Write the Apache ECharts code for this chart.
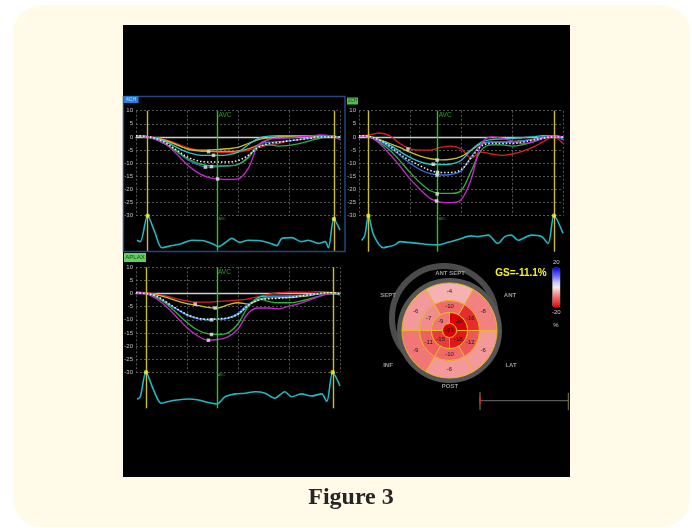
<!DOCTYPE html>
<html><head><meta charset="utf-8">
<script src="https://cdn.jsdelivr.net/npm/echarts@6/dist/echarts.min.js"></script>
<style>html,body{margin:0;padding:0;background:#fff;}#c{width:692px;height:528px;}</style>
</head><body><div id="c"></div>
<script>
// ---------- DATA ----------
const FRAMES = [0,5,10,15,20,25,30,35,40,45,50,55,60,65,70,75,80,85,90,95,100];
const Y_TICKS = [10,5,0,-5,-10,-15,-20,-25,-30];

// 4CH
const ch4Red     = [0.5,0.2,-0.3,-1.2,-2.5,-4,-5,-5.5,-5.8,-6,-5.8,-5,-4,-3,-2.5,-1.5,-1,-0.5,0,0.3,0];
const ch4Orange  = [0.3,0,-0.5,-1.5,-3,-4.5,-5.3,-5.5,-5.5,-5.5,-5.3,-4.5,-3,-1,0,0,0,0,0.3,0.3,0];
const ch4Yellow  = [0.3,0,-0.5,-1.5,-3,-4.5,-5,-5,-4.8,-4.5,-4,-2.5,-1,-0.3,0,0,0,0.3,0.5,0.3,0];
const ch4Cyan    = [0.5,0.2,-0.5,-2,-4,-5.8,-6.8,-7,-7,-6.8,-5.8,-3,-0.5,0.3,0.5,0.5,0.5,0.5,0.5,0.3,0];
const ch4Blue    = [0.3,0,-1,-3,-5.5,-8.5,-10.5,-11.5,-11.3,-11,-10.5,-7.5,-3,-2,-1.8,-1.5,-1,-0.5,0,0.3,0];
const ch4Green   = [0.3,0,-1,-3,-5.5,-8,-10,-10.8,-11,-11,-10.5,-8,-3.5,-3,-3.5,-3.2,-2.5,-1.5,-0.5,0,0];
const ch4Magenta = [0.5,0.3,-1,-3,-6.5,-10.5,-13.5,-15.3,-16,-16.2,-16,-12,-3,-1,-0.5,-0.3,0,0.3,0.8,0.5,-1];
const ch4Avg     = [0.5,0.2,-0.7,-2.5,-5,-7.5,-9,-9.5,-9.5,-9.5,-9,-7,-4,-2.5,-2,-1.5,-1,-0.5,0,0,0];
const ch4Peaks   = [[35.6,-5.6],[38,-7],[34,-11.5],[37,-11.3],[40,-16]];
const ch4Ecg     = [[0.5,32],[2.1,28],[5.7,100],[9.1,56],[12.7,11],[17.6,17],[22.5,23],[27.4,32],[32.3,31],[37.2,23],[40.5,14],[43.7,25],[47,37],[51,26],[55,32],[60,31],[65,25],[69,17],[71.5,37],[76.3,39],[81,28],[84.5,32],[89.4,23],[92.7,28],[94.3,11],[97,91],[100,60]];
const ch4EcgPeaks = [[5.7,100],[97,91]];
const ch4Gates   = [5.7, 97];
const ch4Avc     = 40;

// 2CH
const ch2Red     = [0.3,0.8,1.5,0.5,-2.5,-4.5,-5,-5,-4,-3.5,-4.5,-8,-5.8,-6.5,-7,-6.5,-5.5,-4,-2,0,-2.5];
const ch2Yellow  = [0.5,0.2,-1,-2.5,-4,-5.8,-7.3,-8.3,-8.7,-8.5,-7.5,-5,-2.5,-2,-2,-1.8,-1.5,-1,0,0.5,0];
const ch2Cyan    = [0.5,0.2,-1.2,-3,-5.5,-7.8,-9.5,-10.4,-10.5,-10.3,-9,-5,-2,-1,-0.8,-0.5,-0.3,0,0.5,0.5,-1];
const ch2Blue    = [0.3,0,-1.5,-4,-7,-10,-12.5,-14,-14.5,-14.3,-13,-7.5,-3,-2,-2,-2,-1.5,-1,0,0.3,-1];
const ch2Green   = [0.3,0,-2,-5,-9,-13.5,-17.5,-20.5,-21.5,-21.5,-20.5,-13,-5,-3,-3,-3.5,-3,-2,-0.5,0,0];
const ch2Magenta = [0.3,0,-2.5,-6.5,-11,-16,-20,-23.5,-24.8,-25,-24,-16,-2.5,0,-0.5,-1.5,-2.5,-2,-0.5,0.3,0];
const ch2Avg     = [0.5,0.2,-1.2,-3.5,-6.5,-9,-11,-12.8,-13.5,-13.5,-12.5,-8,-3.5,-2.5,-2.5,-2.5,-2,-1.3,-0.5,0,0];
const ch2Peaks   = [[24,-4.6],[38.3,-8.8],[36.4,-10.4],[38.3,-14.5],[38.3,-21.7],[38,-24.4],[38.5,-13.5]];
const ch2Ecg     = [[1.3,31],[2.9,46],[4.6,100],[7.2,46],[11.9,11],[14.4,14],[17.6,19],[20,28],[24,26],[29,23],[34,20],[38.8,19],[43.7,26],[48.6,34],[55,44],[58.4,42],[63.3,46],[68,23],[71.5,42],[74.7,46],[78,32],[84.5,46],[89.4,42],[92.7,23],[95.6,100],[100,51]];
const ch2EcgPeaks = [[4.6,100],[95.6,100]];
const ch2Gates   = [4.6, 95.7];
const ch2Avc     = 38.6;

// APLAX
const lxRed      = [0.5,0.3,-0.3,-1,-2,-2.8,-3.3,-3.3,-3,-2.8,-2.5,-2,-1.2,-0.3,0.3,0.5,0.5,0.5,0.7,0.5,0];
const lxYellow   = [0.3,0,-0.5,-1.5,-2.8,-3.8,-4.5,-5.3,-5.5,-4.3,-3.5,-4,-2.5,-1.5,-1.5,-1.5,-1.2,-0.8,0,0.3,0];
const lxCyan     = [0.3,0,-1.2,-3.5,-6,-8,-9.5,-10,-9.8,-9.5,-8,-4.5,-1.5,-1,-1,-1,-0.8,-0.5,0,0,-0.5];
const lxBlue     = [0.3,0,-1.2,-3.5,-6,-8.3,-9.5,-9.8,-9.8,-9.3,-7.5,-4,-2,-1.5,-1.2,-1,-1,-0.5,0,0,0];
const lxGreen    = [0.5,0,-1.5,-4,-7.5,-11,-13.8,-15.3,-15.6,-15,-11.5,-5,-2,-3,-3.5,-3.5,-3,-2,-1,0,0];
const lxMagenta  = [0.5,0,-2,-5,-9,-13,-16,-17.7,-17.5,-16.5,-13.5,-7.5,-5.5,-5.5,-5.8,-4.8,-3.8,-2.5,-1,0,0];
const lxAvg      = [0.3,0,-1,-3.3,-5.8,-8,-9.3,-9.8,-9.6,-9.3,-7.8,-4.5,-2.5,-2,-1.8,-1.5,-1,-0.5,0,0.3,0];
const lxPeaks    = [[29,-4],[38.8,-5.5],[37,-10],[37,-15.6],[35.5,-17.8]];
const lxEcg      = [[0.5,25],[2.1,32],[4.9,100],[8.6,51],[12.4,14],[16,19],[20,23],[25.8,26],[30.7,23],[35.6,16],[39.6,12],[43.7,32],[48.6,40],[53.5,42],[58.4,46],[63.3,42],[68,28],[73,46],[76.3,32],[81,40],[86,34],[91,40],[93.5,19],[96.4,100],[100,62]];
const lxEcgPeaks = [[4.9,100],[96.4,100]];
const lxGates    = [4.9, 96.6];
const lxAvc      = 39.7;

// Bull's eye (17-segment), values in %, listed clockwise
const basalVals  = [-4,-8,-6,-6,-9,-6];   // top, upper-right, lower-right, bottom, lower-left, upper-left
const midVals    = [-10,-16,-12,-10,-11,-7];
const apicalVals = [-20,-18,-15,-9];      // upper-right, lower-right, lower-left, upper-left
const apexVals   = [-21];
const globalStrain = '-11.1';
const scaleText  = ['20','-20'];

// ---------- STYLE ----------
const FONT = '"Liberation Sans", Arial, sans-serif';
const C = {red:'#d82222', orange:'#e8892a', yellow:'#cbbd2e', cyan:'#27c6c9', blue:'#3a6ee0', green:'#2fb23f', magenta:'#c52ac8', white:'#f2f2f2'};

const panels = [
  {left:136, top:110.7, lines:[[ch4Red,C.red],[ch4Orange,C.orange],[ch4Yellow,C.yellow],[ch4Cyan,C.cyan],[ch4Blue,C.blue],[ch4Green,C.green],[ch4Magenta,C.magenta]], avg:ch4Avg, peaks:ch4Peaks, ecg:ch4Ecg, ecgPk:ch4EcgPeaks, gates:ch4Gates, avc:ch4Avc},
  {left:359, top:110.7, lines:[[ch2Red,C.red],[ch2Yellow,C.yellow],[ch2Cyan,C.cyan],[ch2Blue,C.blue],[ch2Green,C.green],[ch2Magenta,C.magenta]], avg:ch2Avg, peaks:ch2Peaks, ecg:ch2Ecg, ecgPk:ch2EcgPeaks, gates:ch2Gates, avc:ch2Avc},
  {left:136, top:267.3, lines:[[lxRed,C.red],[lxYellow,C.yellow],[lxCyan,C.cyan],[lxBlue,C.blue],[lxGreen,C.green],[lxMagenta,C.magenta]], avg:lxAvg, peaks:lxPeaks, ecg:lxEcg, ecgPk:lxEcgPeaks, gates:lxGates, avc:lxAvc}
];
const PW = 204, PH = 105, EH = 36;

const pairs = arr => FRAMES.map((f,i)=>[f, arr[i]]);
const grids=[], xAxes=[], yAxes=[], series=[];
const gridLine = {show:true, lineStyle:{color:'#6c6c6c', width:0.8, type:[2,2]}};

panels.forEach(p => {
  const gi = grids.length;
  grids.push({left:p.left, top:p.top, width:PW, height:PH});
  grids.push({left:p.left, top:p.top+PH, width:PW, height:EH});
  xAxes.push({gridIndex:gi, type:'value', min:0, max:100, interval:25, axisLabel:{show:false}, axisTick:{show:false},
    axisLine:{show:true, onZero:true, lineStyle:{color:'#cfcfcf', width:1.3}}, splitLine:gridLine});
  yAxes.push({gridIndex:gi, type:'value', min:-30, max:10, interval:5, axisTick:{show:false}, axisLine:{show:false},
    axisLabel:{fontSize:6, color:'#c4c4c4', margin:3, fontFamily:FONT, customValues:Y_TICKS}, splitLine:gridLine});
  xAxes.push({gridIndex:gi+1, type:'value', min:0, max:100, show:false});
  yAxes.push({gridIndex:gi+1, type:'value', min:0, max:100, show:false});
  const vl = [...p.gates.map(g=>({xAxis:g, lineStyle:{color:'#c8bd3a', width:1.4, type:'solid'}})),
              {xAxis:p.avc, lineStyle:{color:'#2fc02f', width:1.4, type:'solid'}}];
  const ml = {silent:true, symbol:['none','none'], label:{show:false}, data:vl};
  p.lines.forEach(([arr,col],j) => series.push({type:'line', xAxisIndex:gi, yAxisIndex:gi, data:pairs(arr), smooth:0.35,
    showSymbol:false, silent:true, lineStyle:{color:col, width:1.3}, markLine: j===0 ? ml : undefined}));
  series.push({type:'line', xAxisIndex:gi, yAxisIndex:gi, data:pairs(p.avg), smooth:0.35, showSymbol:false, silent:true,
    lineStyle:{color:C.white, width:1.5, type:[1.5,2]}, z:4});
  series.push({type:'scatter', xAxisIndex:gi, yAxisIndex:gi, data:p.peaks, symbol:'rect', symbolSize:3.5, silent:true,
    itemStyle:{color:'#e6e6e6'}, z:5});
  series.push({type:'scatter', xAxisIndex:gi, yAxisIndex:gi, symbolSize:0, silent:true, z:6, data:[
    {value:[p.avc,10], label:{show:true, formatter:'AVC', position:'right', distance:1, offset:[0,5], fontSize:6.5, color:'#35c835', fontFamily:FONT}},
    {value:[p.avc,-30], label:{show:true, formatter:'AVC', position:'right', distance:1, offset:[0,3], fontSize:3.5, color:'#35c835', fontFamily:FONT}}]});
  series.push({type:'line', xAxisIndex:gi+1, yAxisIndex:gi+1, data:p.ecg, smooth:0.3, showSymbol:false, silent:true, clip:false,
    lineStyle:{color:'#24b6c0', width:1.6}, markLine:{silent:true, symbol:['none','none'], label:{show:false}, data:vl}});
  series.push({type:'scatter', xAxisIndex:gi+1, yAxisIndex:gi+1, data:p.ecgPk, symbol:'circle', symbolSize:4.5, silent:true,
    itemStyle:{color:'#eef040'}, z:6});
});

// Bull's eye
const BE = {cx:449.5, cy:330.5};
const rings = [
  {r0:30, r:47.5, n:6, off:90, lr:39},
  {r0:18, r:30,   n:6, off:90, lr:24},
  {r0:7,  r:18,   n:4, off:45, lr:12.5},
  {r0:0,  r:7,    n:1, off:90, lr:0}
];
const beData = [];
[basalVals, midVals, apicalVals, apexVals].forEach((arr,ri)=>arr.forEach((v,i)=>beData.push([ri,i,v])));
const beIndex = series.length;
series.push({type:'custom', coordinateSystem:'none', data:beData, silent:true, z:4,
  renderItem:(params, api) => {
    const rg = rings[api.value(0)], i = api.value(1), v = api.value(2);
    const span = 360/rg.n, th = rg.off - i*span, rad = Math.PI/180;
    const fill = api.visual('color');
    const shape = rg.n === 1
      ? {type:'circle', shape:{cx:BE.cx, cy:BE.cy, r:rg.r}, style:{fill, stroke:'#e9b828', lineWidth:1}}
      : {type:'sector', shape:{cx:BE.cx, cy:BE.cy, r0:rg.r0, r:rg.r, startAngle:-(th+span/2)*rad, endAngle:-(th-span/2)*rad, clockwise:true},
         style:{fill, stroke:'#e9b828', lineWidth:1}};
    return {type:'group', children:[shape,
      {type:'text', z2:10, style:{text:String(v), x:BE.cx + rg.lr*Math.cos(th*rad), y:BE.cy - rg.lr*Math.sin(th*rad),
        align:'center', verticalAlign:'middle', fontSize:6, fontFamily:FONT, fill:'#1b1b1b'}}]};
  }});

const txt = (x,y,t,o={}) => ({type:'text', z:60, style:Object.assign({text:t, x, y, align:'center', verticalAlign:'middle',
  fontSize:6, fontWeight:'bold', fontFamily:FONT, fill:'#9c9c9c'}, o)});

const option = {
  animation:false,
  backgroundColor:'#ffffff',
  grid:grids, xAxis:xAxes, yAxis:yAxes, series,
  visualMap:[{type:'continuous', seriesIndex:beIndex, dimension:2, min:-20, max:20, calculable:false, orient:'vertical',
    left:537, top:244.5, itemWidth:8, itemHeight:40, text:scaleText, textGap:2,
    textStyle:{color:'#cfcfcf', fontSize:6, fontFamily:FONT},
    inRange:{color:['#dc0000','#ea3a3a','#f06a6a','#f5a5a5','#f8e8ec','#c8c8f8','#8080ff','#4040ff','#0000e8']}}],
  graphic:[
    {type:'rect', z:-10, shape:{x:13, y:5, width:677, height:522, r:28}, style:{fill:'#fffbe8'}},
    {type:'rect', z:-9, shape:{x:123, y:25, width:447, height:452}, style:{fill:'#000000'}},
    {type:'rect', z:50, shape:{x:123.5, y:96.5, width:221.5, height:155}, style:{fill:'none', stroke:'#21477c', lineWidth:1.5}},
    {type:'rect', z:51, shape:{x:123.5, y:96.2, width:15, height:6.8}, style:{fill:'#2b7fd9'}},
    txt(131, 99.8, '4CH', {fontSize:5, fill:'#b9dcff', fontWeight:'normal'}),
    {type:'rect', z:51, shape:{x:347, y:97.5, width:11, height:7}, style:{fill:'#52be52'}},
    txt(352.5, 101.2, '2CH', {fontSize:4.5, fill:'#15501a', fontWeight:'normal'}),
    {type:'rect', z:51, shape:{x:124, y:253, width:22, height:9}, style:{fill:'#62cf62'}},
    txt(135, 257.7, 'APLAX', {fontSize:6, fill:'#153f18', fontWeight:'normal'}),
    // gray rings around the bull's eye
    {type:'circle', z:1, shape:{cx:444, cy:318, r:52}, style:{fill:'none', stroke:'#4b4b4b', lineWidth:6}},
    {type:'circle', z:1, shape:{cx:BE.cx, cy:BE.cy, r:50}, style:{fill:'none', stroke:'#555555', lineWidth:5}},
    txt(450, 273.5, 'ANT SEPT'),
    txt(388, 295.5, 'SEPT'),
    txt(510, 295.5, 'ANT'),
    txt(388, 365.5, 'INF'),
    txt(511, 365.5, 'LAT'),
    txt(450, 386.5, 'POST'),
    txt(521, 273.5, 'GS=' + globalStrain + '%', {fontSize:10, fill:'#f4f42a'}),
    txt(556, 325, '%', {fontSize:6, fill:'#cfcfcf', fontWeight:'normal'}),
    // scrub bar
    {type:'line', z:50, shape:{x1:480, y1:400.7, x2:568, y2:400.7}, style:{stroke:'#6e6e6e', lineWidth:1}},
    {type:'line', z:50, shape:{x1:480, y1:392, x2:480, y2:410}, style:{stroke:'#8a8250', lineWidth:1}},
    {type:'line', z:51, shape:{x1:480, y1:396.7, x2:480, y2:403.5}, style:{stroke:'#e02020', lineWidth:1.6}},
    {type:'line', z:50, shape:{x1:568.3, y1:393, x2:568.3, y2:410}, style:{stroke:'#8a8250', lineWidth:1}},
    // caption
    {type:'text', z:50, style:{text:'Figure 3', x:351, y:498, align:'center', verticalAlign:'middle',
      fontSize:24, fontWeight:'bold', fontFamily:'"Liberation Serif", "DejaVu Serif", serif', fill:'#252525'}}
  ]
};
const chart = echarts.init(document.getElementById('c'));
chart.setOption(option);
</script></body></html>
